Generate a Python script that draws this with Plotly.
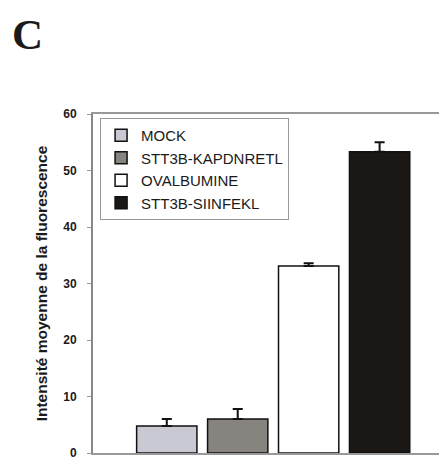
import plotly.graph_objects as go

categories = ["MOCK", "STT3B-KAPDNRETL", "OVALBUMINE", "STT3B-SIINFEKL"]
values = [4.8, 6.0, 33.1, 53.3]
errors = [1.2, 1.8, 0.5, 1.7]
colors = ["#c9c9d3", "#87837f", "#ffffff", "#1b1715"]
positions = [0, 1, 2, 3]
y_ticks = [0, 10, 20, 30, 40, 50, 60]

fig = go.Figure()
for i, name in enumerate(categories):
    fig.add_trace(go.Bar(
        x=[positions[i]], y=[values[i]], name=name,
        width=0.85,
        marker=dict(color=colors[i], line=dict(color="#111111", width=1.5)),
        error_y=dict(type="data", symmetric=False, array=[errors[i]], arrayminus=[0],
                     color="#111111", thickness=2, width=5),
    ))

fig.add_annotation(text="<b>C</b>", xref="paper", yref="paper", x=-0.1864, y=1.0,
                   xanchor="center", yanchor="top", yshift=105, showarrow=False,
                   font=dict(family="Liberation Serif", size=43, color="#1a1a1a"))

fig.update_layout(
    width=447, height=460,
    margin=dict(l=85, r=8, t=106, b=15),
    paper_bgcolor="white", plot_bgcolor="white",
    showlegend=True,
    barmode="overlay",
    font=dict(family="Liberation Sans", color="#1a1a1a"),
    legend=dict(x=0.02, y=0.988, xanchor="left", yanchor="top",
                bordercolor="#999999", borderwidth=1, bgcolor="white",
                font=dict(size=15, family="Liberation Sans", color="#1a1a1a"),
                itemwidth=30, tracegroupgap=0),
    xaxis=dict(range=[-1.04, 3.95], showticklabels=False, ticks="",
               showgrid=False, zeroline=False, showline=True, linecolor="#999999",
               linewidth=1.5, mirror=True),
    yaxis=dict(range=[0, 60], tickvals=y_ticks, ticks="outside", ticklen=4,
               tickcolor="#999999", showgrid=False, zeroline=False, showline=True,
               linecolor="#888888", linewidth=2, ticklabelstandoff=8,
               tickfont=dict(size=12, family="Liberation Sans", color="#1a1a1a",
                             weight="bold"),
               title=dict(text="<b>Intensité moyenne de la fluorescence</b>",
                          font=dict(size=15.5, family="Liberation Sans", color="#1a1a1a"),
                          standoff=12)),
)

fig.write_html("out.html")
